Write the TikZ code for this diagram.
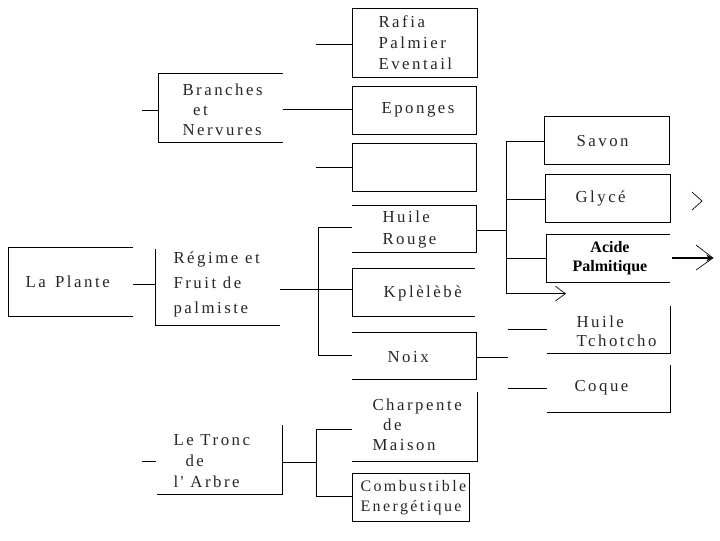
\documentclass[tikz,border=0pt]{standalone}
\usepackage{fontspec}
\setmainfont{Liberation Serif}
\newfontfamily\spfont[LetterSpace=15]{Liberation Serif}
\usetikzlibrary{arrows.meta}
\begin{document}
\begin{tikzpicture}[x=0.75pt,y=-0.75pt, line width=0.75pt,
  lbl/.style={inner sep=0pt, anchor=west, align=left, text=black!85,
    font=\spfont\fontsize{12.6}{#1}\selectfont},
  lbl/.default=15.75pt,
  small lbl/.style={inner sep=0pt, anchor=west, align=left, text=black!85,
    font=\spfont\fontsize{12}{#1}\selectfont},
  bold lbl/.style={inner sep=0pt, align=center, text=black,
    font=\bfseries\fontsize{12}{14.25pt}\selectfont},
  chevron/.style={line width=0.5pt}]
\useasboundingbox (0,0) rectangle (720,540);

% ---- coordinates (connection points)
\coordinate (bsL) at (142,110);
\coordinate (trL) at (142,461);

% ---- boxes
% La Plante (open right)
\draw (133,247) -- (8,247) -- (8,316) -- (133,316);
\node[lbl] (plante) at (25,282) {La\hspace{2pt} Plante};

% Branches et Nervures (open right)
\draw (283,73) -- (158,73) -- (158,142) -- (283,142);
\coordinate (br) at (158,110);
\coordinate (brR) at (283,109);
\node[lbl=15pt] (branches) at (182,110) {Branches\\\hspace*{8pt}et\\Nervures};

% Regime et Fruit de palmiste (left + bottom)
\draw (155,249) -- (155,325) -- (280,325);
\coordinate (rg) at (155,284);
\coordinate (rgR) at (280,289);
\node[lbl=18.75pt] (regime) at (173,284) {Régime et\\Fruit de\\palmiste};

% Le Tronc de l'Arbre (right + bottom)
\draw (282,425) -- (282,494) -- (157,494);
\coordinate (tr) at (156,461);
\coordinate (trR) at (282,462);
\node[lbl] (tronc) at (173,461) {Le Tronc\\\hspace*{9pt}de\\l' Arbre};

% Rafia
\draw (352,8) rectangle (477,77);
\coordinate (rf) at (352,44);
\coordinate (rfL) at (316,44);
\node[lbl] (rafia) at (378,43) {Rafia\\Palmier\\Eventail};

% Eponges
\draw (352,86) rectangle (476,134);
\coordinate (ep) at (352,109);
\node[lbl] (eponges) at (381,110) {Eponges};

% empty box
\draw (352,143) rectangle (476,191);
\coordinate (em) at (352,167);
\coordinate (emL) at (316,167);

% Huile Rouge (open left)
\draw (352,205) -- (476,205) -- (476,252) -- (352,252);
\coordinate (hr) at (352,227);
\coordinate (hrR) at (476,230);
\node[lbl=16.5pt] (huilerouge) at (382,229) {Huile\\Rouge};

% Kplelebe (open right)
\draw (475,268) -- (352,268) -- (352,316) -- (475,316);
\coordinate (kp) at (352,289);
\node[lbl] (kplelebe) at (383,293) {Kplèlèbè};

% Noix (open left)
\draw (352,332) -- (476,332) -- (476,379) -- (352,379);
\coordinate (nx) at (352,355);
\coordinate (nxR) at (476,357);
\coordinate (nxE) at (508,357);
\node[lbl] (noix) at (387,357) {Noix};

% Charpente de Maison (right + bottom)
\draw (477,392) -- (477,461) -- (352,461);
\coordinate (ch) at (352,429);
\node[lbl=15pt] (charpente) at (372,425) {Charpente\\\hspace*{8pt}de\\Maison};

% Combustible Energetique
\draw (352,473) rectangle (469,521);
\coordinate (cb) at (352,496);
\node[small lbl=15pt] (combustible) at (360,498) {Combustible\\Energétique};

% Savon
\draw (544,116) rectangle (669,164);
\coordinate (sv) at (544,141);
\node[lbl] (savon) at (576,141) {Savon};

% Glyce
\draw (545,174) rectangle (670,222);
\coordinate (gl) at (545,199);
\node[lbl] (glyce) at (575,198) {Glycé};

% Acide Palmitique (open right)
\draw (670,234) -- (546,234) -- (546,282) -- (670,282);
\coordinate (ac) at (546,258);
\coordinate (acR) at (672,258);
\coordinate (acE) at (713,258);
\node[bold lbl] (acide) at (610,258) {Acide\\Palmitique};

% Huile Tchotcho (right + bottom)
\draw (670,306) -- (670,353) -- (547,353);
\coordinate (tc) at (547,329);
\coordinate (tcL) at (508,329);
\node[lbl=14.25pt] (tchotcho) at (576,331) {Huile\\Tchotcho};

% Coque (right + bottom)
\draw (670,365) -- (670,412) -- (547,412);
\coordinate (cq) at (547,388);
\coordinate (cqL) at (508,388);
\node[lbl] (coque) at (574,388) {Coque};

% ---- connectors
\coordinate (plR) at (133,284);
\draw (bsL) -- (br);
\draw (plR) -- (rg);
\draw (trL) -- (tr);
\draw (rfL) -- (rf);
\draw (brR) -- (ep);
\draw (emL) -- (em);
\draw (rgR) -- (kp);
\draw (hr) -- (318,227) -- (318,355) -- (nx);
\draw (trR) -- (316,462);
\draw (ch) -- (316,429) -- (316,496) -- (cb);
\draw (hrR) -- (506,230);
\draw (sv) -- (506,141) -- (506,294);
\draw[-{Straight Barb[length=7.5pt,width=11pt,line width=0.5pt]}] (506,293.6) -- (566,293.6);
\draw (506,199) -- (gl);
\draw (506,258) -- (ac);
\draw (nxR) -- (nxE);
\draw (tcL) -- (tc);
\draw (cqL) -- (cq);

% arrow out of Acide Palmitique
\draw[line width=1.6pt, -{Stealth[length=5pt,width=5pt]}] (acR) -- (acE);
\draw[chevron] (696,245) -- (acE) -- (696,270);

% lone chevron beside Glyce
\coordinate (gchev) at (702,201);
\draw[chevron] (692,192) -- (gchev) -- (692,210);
\end{tikzpicture}
\end{document}
